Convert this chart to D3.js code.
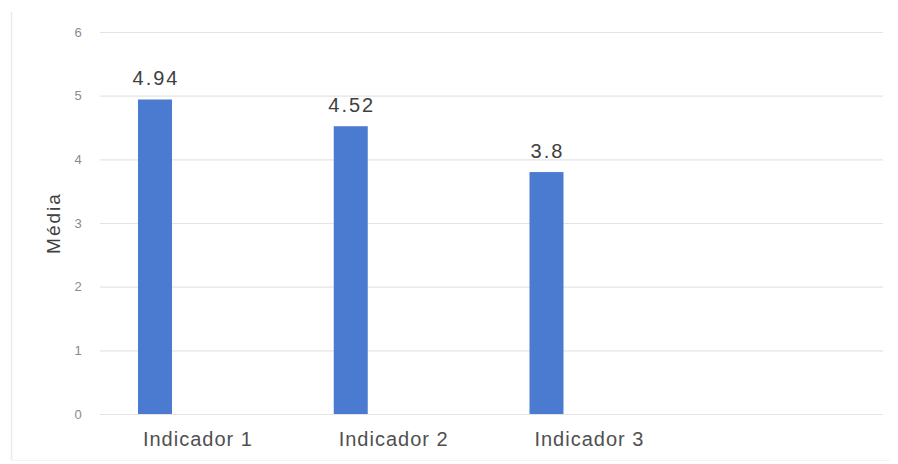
<!DOCTYPE html>
<html>
<head>
<meta charset="utf-8">
<script src="https://cdn.jsdelivr.net/npm/d3@7"></script>
<style>
  html, body { margin: 0; padding: 0; background: #fff; }
  svg { display: block; font-family: "Liberation Sans", Arial, sans-serif; }
</style>
</head>
<body>
<svg id="chart" width="898" height="464"></svg>
<script>
const categories = ["Indicador 1", "Indicador 2", "Indicador 3", ""];
const seriesSlots = ["Média", "slot2", "slot3"];
const values = [4.94, 4.52, 3.8];
const valueLabels = ["4.94", "4.52", "3.8"];
const yTicks = [0, 1, 2, 3, 4, 5, 6];
const yTitle = "Média";

const svg = d3.select("#chart");
const W = 898, H = 464;
const m = { left: 100, right: 15, top: 32, bottom: 50 };

// faint frame edges (left and bottom)
svg.append("line").attr("x1", 11.5).attr("x2", 11.5).attr("y1", 12).attr("y2", 460)
  .attr("stroke", "#ebebeb").attr("stroke-width", 1.5);
svg.append("line").attr("x1", 11.5).attr("x2", 890).attr("y1", 460.5).attr("y2", 460.5)
  .attr("stroke", "#f2f2f2").attr("stroke-width", 1);

const x = d3.scaleBand().domain(categories).range([m.left, W - m.right]).padding(0);
const xs = d3.scaleBand().domain(seriesSlots).range([0, x.bandwidth()])
  .paddingInner(0.207).paddingOuter(0.886);
const y = d3.scaleLinear().domain([0, 6]).range([H - m.bottom, m.top]);

// gridlines
svg.append("g")
  .attr("transform", `translate(${m.left},0)`)
  .call(d3.axisLeft(y).tickValues(yTicks).tickSize(-(W - m.right - m.left)).tickFormat(""))
  .call(g => g.select(".domain").remove())
  .call(g => g.selectAll("line").attr("stroke", "#e4e4e4").attr("stroke-width", 1.2));

// y tick labels
svg.append("g")
  .attr("transform", `translate(${m.left - 16},0)`)
  .call(d3.axisLeft(y).tickValues(yTicks).tickSize(0).tickFormat(d3.format("d")))
  .call(g => g.select(".domain").remove())
  .call(g => g.selectAll("text")
    .attr("fill", "#8a8a8a").attr("font-size", 13)
    .attr("text-anchor", "middle").attr("x", -6));

// x labels
svg.append("g")
  .attr("transform", `translate(0,${H - m.bottom})`)
  .call(d3.axisBottom(x).tickSize(0))
  .call(g => g.select(".domain").remove())
  .call(g => g.selectAll("text")
    .attr("fill", "#505050").attr("font-size", 20)
    .attr("letter-spacing", 1).attr("dy", "1.45em"));

// bars
const data = categories.slice(0, values.length).map((c, i) => ({ c, v: values[i], l: valueLabels[i] }));
svg.append("g").selectAll("rect").data(data).join("rect")
  .attr("x", d => x(d.c) + xs(seriesSlots[0]))
  .attr("width", xs.bandwidth())
  .attr("y", d => y(d.v))
  .attr("height", d => y(0) - y(d.v))
  .attr("fill", "#4a7bd0");

// value labels
svg.append("g").selectAll("text").data(data).join("text")
  .attr("x", d => x(d.c) + xs(seriesSlots[0]) + xs.bandwidth() / 2 + 1)
  .attr("y", d => y(d.v) - 14)
  .attr("text-anchor", "middle")
  .attr("fill", "#404040").attr("font-size", 20)
  .attr("letter-spacing", 2)
  .text(d => d.l);

// y title
svg.append("text")
  .attr("transform", `translate(60,${(y(0) + y(6)) / 2}) rotate(-90)`)
  .attr("text-anchor", "middle")
  .attr("fill", "#404040").attr("font-size", 19)
  .attr("letter-spacing", 2)
  .text(yTitle);
</script>
</body>
</html>
